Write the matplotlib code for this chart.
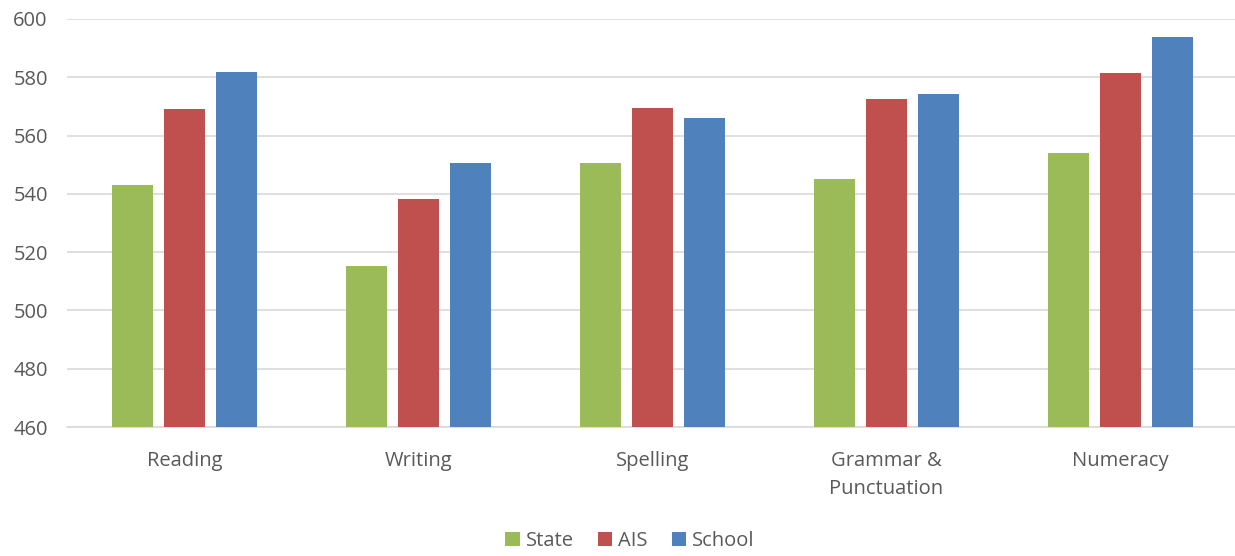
import matplotlib
matplotlib.use('Agg')
import matplotlib.pyplot as plt
import numpy as np

plt.rcParams['font.family'] = ['Open Sans', 'DejaVu Sans']

categories = ['Reading', 'Writing', 'Spelling', 'Grammar &\nPunctuation', 'Numeracy']
series_names = ['State', 'AIS', 'School']
state = [543.0, 515.3, 550.6, 545.1, 554.0]
ais = [569.2, 538.3, 569.5, 572.6, 581.5]
school = [581.9, 550.6, 566.1, 574.4, 593.8]
colors = ['#9BBB59', '#C0504D', '#4F81BD']

text_color = '#595959'
grid_color = '#D9D9D9'

fig = plt.figure(figsize=(12.35, 5.56), dpi=100)
ax = fig.add_axes([0.0545, 0.232, 0.9475, 0.734])

x = np.arange(len(categories))
width = 0.175
step = 0.222
for i, (name, vals, c) in enumerate(zip(series_names, [state, ais, school], colors)):
    ax.bar(x + (i - 1) * step, np.array(vals) - 460, bottom=460, width=width,
           color=c, label=name, zorder=3)

ax.set_xlim(-0.5, len(categories) - 0.5)
ax.set_ylim(460, 600)
ax.set_yticks(range(460, 601, 20))
ax.set_xticks(x)
ax.set_xticklabels(categories, linespacing=1.55)
ax.tick_params(axis='both', length=0, labelsize=14.5, colors=text_color)
ax.tick_params(axis='x', pad=17)
ax.tick_params(axis='y', pad=14)
for lbl in ax.get_xticklabels():
    lbl.set_verticalalignment('top')

ax.grid(True, axis='y', color=grid_color, linewidth=1.2, zorder=0)
for side in ['top', 'right', 'left']:
    ax.spines[side].set_visible(False)
ax.spines['bottom'].set_color(grid_color)
ax.spines['bottom'].set_linewidth(1.2)

leg = fig.legend(loc='center', bbox_to_anchor=(0.51, 0.027), ncol=3, frameon=False,
                 fontsize=14.5, handlelength=0.7, handleheight=0.7,
                 handletextpad=0.3, columnspacing=1.2)
for t in leg.get_texts():
    t.set_color(text_color)

fig.savefig('out.png', dpi=100)
